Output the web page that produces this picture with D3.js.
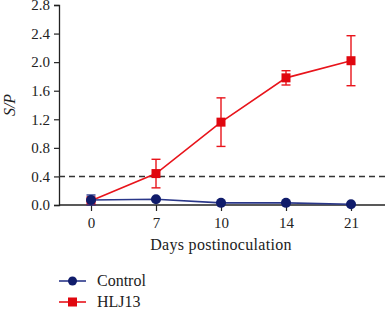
<!DOCTYPE html>
<html>
<head>
<meta charset="utf-8">
<script src="https://cdn.jsdelivr.net/npm/d3@7"></script>
<style>
  body { margin: 0; background: #fff; }
  text { font-family: "Liberation Serif", "DejaVu Serif", serif; }
</style>
</head>
<body>
<svg id="chart"></svg>
<script>
  const days = ["0", "7", "10", "14", "21"];
  const yTicks = [0, 0.4, 0.8, 1.2, 1.6, 2.0, 2.4, 2.8];
  const controlMean = [0.07, 0.08, 0.03, 0.03, 0.01];
  const controlErr = [0.07, 0.01, 0.01, 0.01, 0.005];
  const hljMean = [0.06, 0.44, 1.16, 1.78, 2.02];
  const hljErr = [0.01, 0.2, 0.34, 0.1, 0.35];
  const cutoff = 0.4;

  const width = 385, height = 309;
  const left = 59;

  const svg = d3.select("#chart").attr("width", width).attr("height", height);

  const x = d3.scalePoint().domain(days).range([91, 351]);
  const y = d3.scaleLinear().domain([0, 2.8]).range([205, 5]);

  const series = [
    { name: "Control", mean: controlMean, err: controlErr, color: "#101c6b", lineColor: "#2a3789", shape: "circle" },
    { name: "HLJ13", mean: hljMean, err: hljErr, color: "#e0070f", lineColor: "#e8141b", shape: "square" },
  ];

  // y axis
  const yAxis = svg.append("g")
    .attr("transform", `translate(${left},0)`)
    .call(d3.axisLeft(y).tickValues(yTicks).tickFormat(d3.format(".1f")).tickSize(5).tickPadding(4));
  yAxis.select(".domain").attr("stroke", "#222").attr("stroke-width", 1.3);
  yAxis.selectAll(".tick line").attr("stroke", "#222").attr("stroke-width", 1.2);
  yAxis.selectAll(".tick text").style("font-size", "15px").attr("fill", "#222");

  // x axis
  const xAxis = svg.append("g")
    .attr("transform", `translate(0,${y(0)})`)
    .call(d3.axisBottom(x).tickSize(6).tickPadding(6));
  xAxis.select(".domain").attr("d", `M${left},0H${width}`).attr("stroke", "#222").attr("stroke-width", 1.3);
  xAxis.selectAll(".tick line").attr("stroke", "#222").attr("stroke-width", 1.2);
  xAxis.selectAll(".tick text").style("font-size", "15px").attr("fill", "#222");

  // axis titles
  svg.append("text")
    .attr("transform", `translate(15,${y(1.4)}) rotate(-90)`)
    .attr("text-anchor", "middle")
    .style("font-size", "16px")
    .style("font-style", "italic")
    .attr("fill", "#222")
    .text("S/P");

  svg.append("text")
    .attr("x", 221).attr("y", 250)
    .attr("text-anchor", "middle")
    .style("font-size", "16px")
    .style("letter-spacing", "0.3px")
    .attr("fill", "#222")
    .text("Days postinoculation");

  // cutoff line
  svg.append("line")
    .attr("x1", left).attr("x2", width)
    .attr("y1", y(cutoff)).attr("y2", y(cutoff))
    .attr("stroke", "#333").attr("stroke-width", 1.5)
    .attr("stroke-dasharray", "6,4");

  const line = d3.line().x((d, i) => x(days[i])).y((d) => y(d));

  // draw HLJ13 first so Control sits on top at day 0
  series.slice().reverse().forEach((s) => {
    const g = svg.append("g");
    g.append("path")
      .datum(s.mean)
      .attr("d", line)
      .attr("fill", "none")
      .attr("stroke", s.lineColor)
      .attr("stroke-width", 1.6);

    const eb = g.selectAll(".eb").data(s.mean).join("g");
    eb.append("line")
      .attr("x1", (d, i) => x(days[i])).attr("x2", (d, i) => x(days[i]))
      .attr("y1", (d, i) => y(d + s.err[i])).attr("y2", (d, i) => y(Math.max(0, d - s.err[i])))
      .attr("stroke", s.lineColor).attr("stroke-width", 1.4);
    [1, -1].forEach((sign) => {
      eb.append("line")
        .attr("x1", (d, i) => x(days[i]) - 4.5).attr("x2", (d, i) => x(days[i]) + 4.5)
        .attr("y1", (d, i) => y(Math.max(0, d + sign * s.err[i])))
        .attr("y2", (d, i) => y(Math.max(0, d + sign * s.err[i])))
        .attr("stroke", s.lineColor).attr("stroke-width", 1.4);
    });

    if (s.shape === "circle") {
      g.selectAll(".pt").data(s.mean).join("circle")
        .attr("cx", (d, i) => x(days[i])).attr("cy", (d) => y(d))
        .attr("r", 5).attr("fill", s.color);
    } else {
      g.selectAll(".pt").data(s.mean).join("rect")
        .attr("x", (d, i) => x(days[i]) - 4.5).attr("y", (d) => y(d) - 4.5)
        .attr("width", 9).attr("height", 9).attr("fill", s.color);
    }
  });

  // legend
  const legend = svg.append("g");
  series.forEach((s, i) => {
    const ly = 281 + i * 21;
    legend.append("line")
      .attr("x1", 59).attr("x2", 86).attr("y1", ly).attr("y2", ly)
      .attr("stroke", s.lineColor).attr("stroke-width", 1.6);
    if (s.shape === "circle") {
      legend.append("circle").attr("cx", 72.5).attr("cy", ly).attr("r", 4.5).attr("fill", s.color);
    } else {
      legend.append("rect").attr("x", 68).attr("y", ly - 4.5).attr("width", 9).attr("height", 9).attr("fill", s.color);
    }
    legend.append("text")
      .attr("x", 97).attr("y", ly + 5)
      .style("font-size", "16px")
      .attr("fill", "#222")
      .text(s.name);
  });
</script>
</body>
</html>
